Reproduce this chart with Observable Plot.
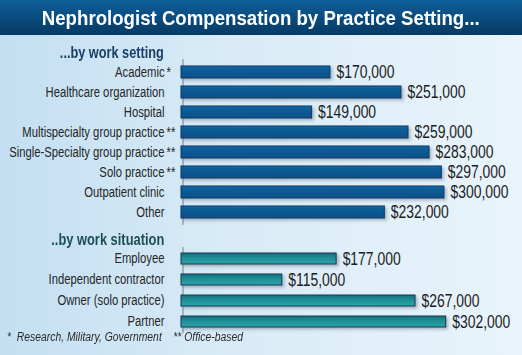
<!DOCTYPE html>
<html><head><meta charset="utf-8">
<script src="https://cdn.jsdelivr.net/npm/d3@7"></script>
<script src="https://cdn.jsdelivr.net/npm/@observablehq/plot@0.6"></script>
<style>
html,body{margin:0;padding:0;}
#wrap{position:relative;width:522px;height:355px;overflow:hidden;
 background:linear-gradient(90deg,#c3dff2 0%,#d9ebf7 45%,#e9f4fb 100%);
 font-family:"Liberation Sans",Arial,sans-serif;}
#title{position:absolute;left:0;top:0;width:522px;height:35px;
 background:linear-gradient(180deg,#0d5f9a 0%,#0a4a7c 55%,#073a63 100%);text-align:center;}
#title span{display:inline-block;color:#fff;font-weight:bold;font-size:21px;line-height:35px;white-space:nowrap;transform-origin:50% 50%;}
.hdr{position:absolute;right:358px;font-weight:bold;font-size:17px;white-space:nowrap;transform-origin:100% 50%;}
#h1{top:43px;color:#1a3e66;}
#h2{top:230px;color:#1c4e56;}
.plot{position:absolute;left:0;}
#p1{top:58px;}
#p2{top:246px;}
#foot{position:absolute;left:7px;top:330px;font-size:12.5px;font-style:italic;color:#2b2b2b;white-space:pre;transform-origin:0 50%;}
</style></head>
<body><div id="wrap">
<div id="title"><span>Nephrologist Compensation by Practice Setting...</span></div>
<div class="hdr" id="h1">...by work setting</div>
<div class="hdr" id="h2">..by work situation</div>
<div class="plot" id="p1"></div>
<div class="plot" id="p2"></div>
<div id="foot">*  Research, Military, Government    ** Office-based</div>
</div>
<script>
const settingNames = ["Academic","Healthcare organization","Hospital","Multispecialty group practice","Single-Specialty group practice","Solo practice","Outpatient clinic","Other"];
const settingNotes = ["*","","","**","**","**","",""];
const settingValues = [170000,251000,149000,259000,283000,297000,300000,232000];
const situationNames = ["Employee","Independent contractor","Owner (solo practice)","Partner"];
const situationNotes = ["","","",""];
const situationValues = [177000,115000,267000,302000];

const fmt = v => "$" + d3.format(",")(v);
const FONT = '"Liberation Sans",Arial,sans-serif';
const TICK_SIZE = 14, VAL_SIZE = 17.5;

// width measurement for condensing the Arial-like font to match the condensed original
const ctx = document.createElement("canvas").getContext("2d");
function measure(text, font) { ctx.font = font; return ctx.measureText(text).width; }
const TICK_F = 119 / measure("Healthcare organization", TICK_SIZE + "px " + FONT);
const VAL_F = 58 / measure("$170,000", VAL_SIZE + "px " + FONT);

function squeezeHTML(el, target) {
  el.style.display = "inline-block";
  const w = el.getBoundingClientRect().width;
  el.style.transform = `scaleX(${target / w})`;
}

function gradDefs(svg, id, stops) {
  const ns = "http://www.w3.org/2000/svg";
  const defs = document.createElementNS(ns, "defs");
  const g = document.createElementNS(ns, "linearGradient");
  g.setAttribute("id", id); g.setAttribute("x1","0"); g.setAttribute("x2","0");
  g.setAttribute("y1","0"); g.setAttribute("y2","1");
  stops.forEach(([o,c]) => { const s = document.createElementNS(ns,"stop"); s.setAttribute("offset",o); s.setAttribute("stop-color",c); g.appendChild(s); });
  defs.appendChild(g);
  const f = document.createElementNS(ns, "filter");
  f.setAttribute("id", id + "sh"); f.setAttribute("x","-5%"); f.setAttribute("y","-30%"); f.setAttribute("width","115%"); f.setAttribute("height","190%");
  f.innerHTML = '<feDropShadow dx="2" dy="2" stdDeviation="1.5" flood-color="#345" flood-opacity="0.35"/>';
  defs.appendChild(f);
  svg.insertBefore(defs, svg.firstChild);
}

function squeezeTexts(group, factor) {
  if (!group) return;
  group.querySelectorAll("text").forEach(t => {
    const w = t.getComputedTextLength();
    if (w > 0) { t.setAttribute("textLength", w * factor); t.setAttribute("lengthAdjust", "spacingAndGlyphs"); }
  });
}

function makeChart(host, names, notes, values, height, mt, mb, pad, gid, stops, stroke) {
  const data = names.map((n,i) => ({name:n, note:notes[i], value:values[i]}));
  const svg = Plot.plot({
    width: 522, height, marginLeft: 181, marginRight: 43, marginTop: mt, marginBottom: mb,
    style: {background: "transparent", fontFamily: FONT, fontSize: TICK_SIZE + "px", color: "#262626", overflow: "visible"},
    x: {domain: [0, 340000], axis: null},
    y: {domain: names, paddingInner: pad, paddingOuter: 0, label: null, tickSize: 0, tickPadding: 17},
    marks: [
      Plot.ruleX([0], {stroke: "#a9b4bf", strokeWidth: 2, insetTop: -4, insetBottom: -5, dx: 1.5}),
      Plot.barX(data, {y: "name", x: "value", fill: `url(#${gid})`, stroke, strokeWidth: 1}),
      Plot.text(data, {y: "name", x: "value", text: d => fmt(d.value), textAnchor: "start", dx: 6, fontSize: VAL_SIZE, fill: "#1c1c24"}),
      Plot.text(data, {y: "name", text: "note", frameAnchor: "left", dx: -15, textAnchor: "start", fontSize: TICK_SIZE, fill: "#262626"})
    ]
  });
  gradDefs(svg, gid, stops);
  const barG = svg.querySelector('g[aria-label="bar"]');
  if (barG) barG.setAttribute("filter", `url(#${gid}sh)`);
  host.appendChild(svg);
  squeezeTexts(svg.querySelector('g[aria-label="y-axis tick label"]'), TICK_F);
  const textGroups = svg.querySelectorAll('g[aria-label="text"]');
  squeezeTexts(textGroups[0], VAL_F);
  squeezeTexts(textGroups[1], TICK_F);
  return svg;
}

makeChart(document.getElementById("p1"), settingNames, settingNotes, settingValues, 172, 5, 10, 0.42, "gblue",
  [["0","#1a6aa5"],["0.25","#0f5d98"],["1","#0b5089"]], "#0a3862");
makeChart(document.getElementById("p2"), situationNames, situationNotes, situationValues, 88, 5, 5.7, 0.47, "gteal",
  [["0","#15707a"],["0.45","#1f8f96"],["1","#2ba6aa"]], "#0e3a52");

squeezeHTML(document.querySelector("#title span"), 438);
squeezeHTML(document.getElementById("h1"), 104);
squeezeHTML(document.getElementById("h2"), 113);
squeezeHTML(document.getElementById("foot"), 236);
</script>
</body></html>
